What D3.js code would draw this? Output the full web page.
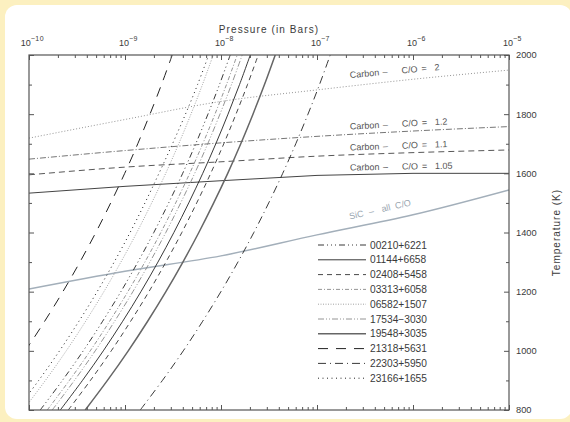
<!DOCTYPE html>
<html><head><meta charset="utf-8">
<script src="https://cdn.jsdelivr.net/npm/d3@7"></script>
<style>
body{margin:0;background:#fcf0c0;}
svg{display:block;font-family:"Liberation Sans",Arial,Helvetica,sans-serif;}
</style>
</head><body>
<svg id="c" width="570" height="422"></svg>
<script>
// ---- data ----
const temps = [800, 900, 1000, 1100, 1200, 1300, 1400, 1500, 1600, 1700, 1800, 1900, 2000];
const stars = ["00210+6221","01144+6658","02408+5458","03313+6058","06582+1507",
               "17534\u22123030","19548+3035","21318+5631","22303+5950","23166+1655"];
// log10(pressure / bar) of each star's T-P curve at the temperatures above
const logP_00210 = [-9.883,-9.652,-9.435,-9.233,-9.043,-8.866,-8.700,-8.545,-8.399,-8.263,-8.136,-8.016,-7.904];
const logP_01144 = [-9.674,-9.443,-9.226,-9.024,-8.834,-8.657,-8.491,-8.336,-8.190,-8.054,-7.927,-7.807,-7.695];
const logP_02408 = [-9.591,-9.360,-9.143,-8.941,-8.751,-8.574,-8.408,-8.253,-8.107,-7.971,-7.844,-7.724,-7.612];
const logP_03313 = [-9.810,-9.579,-9.362,-9.160,-8.970,-8.793,-8.627,-8.472,-8.326,-8.190,-8.063,-7.943,-7.831];
const logP_06582 = [-10.060,-9.829,-9.612,-9.410,-9.220,-9.043,-8.877,-8.722,-8.576,-8.440,-8.313,-8.193,-8.081];
const logP_17534 = [-9.758,-9.527,-9.310,-9.108,-8.918,-8.741,-8.575,-8.420,-8.274,-8.138,-8.011,-7.891,-7.779];
const logP_19548 = [-9.414,-9.183,-8.966,-8.764,-8.574,-8.397,-8.231,-8.076,-7.930,-7.794,-7.667,-7.547,-7.435];
const logP_21318 = [-10.487,-10.256,-10.039,-9.837,-9.647,-9.470,-9.304,-9.149,-9.003,-8.867,-8.740,-8.620,-8.508];
const logP_22303 = [-8.841,-8.610,-8.393,-8.191,-8.001,-7.824,-7.658,-7.503,-7.357,-7.221,-7.094,-6.974,-6.862];
const logP_23166 = [-10.130,-9.899,-9.682,-9.480,-9.290,-9.113,-8.947,-8.792,-8.646,-8.505,-8.370,-8.244,-8.128];

// condensation curves: log10(P) and temperature
const condLogP = [-10, -9, -8, -7, -6, -5];
const carbonCO2   = [1719, 1782, 1843, 1882, 1918, 1949];
const carbonCO12  = [1648, 1677, 1703, 1725, 1743, 1758];
const carbonCO11  = [1595, 1621, 1639, 1658, 1670, 1679];
const carbonCO105 = [1533, 1556, 1575, 1593, 1600, 1600];
const sicAll      = [1209, 1269, 1321, 1392, 1460, 1544];

const coValues = ["2", "1.2", "1.1", "1.05"];
const decadeExps = [-10, -9, -8, -7, -6, -5];
const tempTicks = [800, 1000, 1200, 1400, 1600, 1800, 2000];

// ---- styles ----
const starSeries = [logP_00210, logP_01144, logP_02408, logP_03313, logP_06582,
                    logP_17534, logP_19548, logP_21318, logP_22303, logP_23166];
const starStyle = [
  {c:"#222", w:0.9, d:"6,3,1,3,1,3,1,3"},
  {c:"#222", w:0.9, d:null},
  {c:"#333", w:0.9, d:"5,4"},
  {c:"#888", w:0.9, d:"4,2,1,2"},
  {c:"#999", w:0.9, d:"1,1.5"},
  {c:"#888", w:0.9, d:"6,2,1,2,1,2"},
  {c:"#666", w:1.5, d:null},
  {c:"#222", w:1.0, d:"10,8"},
  {c:"#222", w:0.9, d:"8,4,1,4"},
  {c:"#222", w:1.0, d:"1,3.5"}
];
const condSeries = [carbonCO2, carbonCO12, carbonCO11, carbonCO105, sicAll];
const condStyle = [
  {c:"#888", w:0.9, d:"1,2"},
  {c:"#666", w:0.9, d:"6,2,1,2"},
  {c:"#444", w:0.9, d:"6,4"},
  {c:"#444", w:1.0, d:null},
  {c:"#a3afba", w:1.4, d:null}
];

// ---- layout ----
const L = 29, R = 509, T = 55, B = 410;
const svg = d3.select("#c");
svg.append("rect").attr("x",5).attr("y",5).attr("width",567).attr("height",414)
   .attr("rx",12).attr("fill","#fff");

const x = d3.scaleLog().domain([1e-10, 1e-5]).range([L, R]);
const y = d3.scaleLinear().domain([800, 2000]).range([B, T]);

svg.append("clipPath").attr("id","clip").append("rect")
   .attr("x",L).attr("y",T).attr("width",R-L).attr("height",B-T);
const plot = svg.append("g").attr("clip-path","url(#clip)");

condSeries.forEach((s, i) => {
  const pts = condLogP.map((lp, j) => [Math.pow(10, lp), s[j]]);
  const line = d3.line().x(d => x(d[0])).y(d => y(d[1]))
    .curve(i === 3 ? d3.curveLinear : d3.curveMonotoneX);
  plot.append("path").attr("d", line(pts)).attr("fill","none")
    .attr("stroke", condStyle[i].c).attr("stroke-width", condStyle[i].w)
    .attr("stroke-dasharray", condStyle[i].d);
});

starSeries.forEach((s, i) => {
  const pts = temps.map((t, j) => [Math.pow(10, s[j]), t]);
  const line = d3.line().x(d => x(d[0])).y(d => y(d[1])).curve(d3.curveCatmullRom);
  plot.append("path").attr("d", line(pts)).attr("fill","none")
    .attr("stroke", starStyle[i].c).attr("stroke-width", starStyle[i].w)
    .attr("stroke-dasharray", starStyle[i].d);
});

// ---- axes ----
const minorP = [];
decadeExps.slice(0, -1).forEach(e => { for (let k = 2; k <= 9; k++) minorP.push(k * Math.pow(10, e)); });
const decades = decadeExps.map(e => Math.pow(10, e));
const minorT = d3.range(900, 2000, 200);
const axisColor = "#555";
const txtColor = "#3a3a3a";

function styleAxis(g) {
  g.select(".domain").remove();
  g.selectAll("line").attr("stroke", axisColor);
  g.selectAll("text").attr("fill",txtColor).attr("font-family","Liberation Sans, Arial, sans-serif");
}

const topAx = svg.append("g").attr("transform",`translate(0,${T})`)
  .call(d3.axisTop(x).tickValues(decades).tickSize(-5).tickPadding(9).tickFormat(() => ""));
topAx.selectAll(".tick text").each(function(d, i) {
  const t = d3.select(this);
  t.attr("font-size", 9).attr("dy", 0).attr("dx", 3);
  t.append("tspan").text("10");
  t.append("tspan").attr("dy", -5).attr("font-size", 7).attr("letter-spacing", 0.6)
    .text("\u2212" + Math.abs(decadeExps[i]));
});
styleAxis(topAx);
styleAxis(svg.append("g").attr("transform",`translate(0,${T})`)
  .call(d3.axisTop(x).tickValues(minorP).tickSize(-3).tickFormat(() => "")));
styleAxis(svg.append("g").attr("transform",`translate(0,${B})`)
  .call(d3.axisBottom(x).tickValues(decades).tickSize(-5).tickFormat(() => "")));
styleAxis(svg.append("g").attr("transform",`translate(0,${B})`)
  .call(d3.axisBottom(x).tickValues(minorP).tickSize(-3).tickFormat(() => "")));
styleAxis(svg.append("g").attr("transform",`translate(${L},0)`)
  .call(d3.axisLeft(y).tickValues(tempTicks).tickSize(-5).tickFormat(() => "")));
styleAxis(svg.append("g").attr("transform",`translate(${L},0)`)
  .call(d3.axisLeft(y).tickValues(minorT).tickSize(-3).tickFormat(() => "")));
const rightAx = svg.append("g").attr("transform",`translate(${R},0)`)
  .call(d3.axisRight(y).tickValues(tempTicks).tickSize(-5).tickPadding(7).tickFormat(d3.format("d")));
rightAx.selectAll("text").attr("font-size", 9.3);
styleAxis(rightAx);
styleAxis(svg.append("g").attr("transform",`translate(${R},0)`)
  .call(d3.axisRight(y).tickValues(minorT).tickSize(-3).tickFormat(() => "")));

svg.append("rect").attr("x",L).attr("y",T).attr("width",R-L).attr("height",B-T)
  .attr("fill","none").attr("stroke",axisColor).attr("stroke-width",1.2);

// titles
svg.append("text").attr("x",(L+R)/2).attr("y",33).attr("text-anchor","middle")
  .attr("font-size",10).attr("letter-spacing",1.1).attr("fill",txtColor).text("Pressure (in Bars)");
svg.append("text").attr("transform",`translate(560,${(T+B)/2}) rotate(-90)`)
  .attr("text-anchor","middle").attr("font-size",10).attr("letter-spacing",1)
  .attr("fill",txtColor).text("Temperature (K)");

// condensation labels (pieces spaced like the original)
const labelPos = [[350,78,-5],[350,129.5,-3],[350,150.5,-2],[350,170.5,-1]];
labelPos.forEach((p, i) => {
  const g = svg.append("g").attr("transform",`translate(${p[0]},${p[1]}) rotate(${p[2]})`)
    .attr("font-size",9).attr("fill","#555");
  [["Carbon",0],["\u2013",33],["C/O",52],["=",72],[coValues[i],85]].forEach(q =>
    g.append("text").attr("x", q[1]).text(q[0]));
});
const sicG = svg.append("g").attr("transform","translate(350,219.5) rotate(-13)")
  .attr("font-size",9).attr("fill","#9aa6b0");
[["SiC",0],["\u2013",20],["all",33],["C/O",47]].forEach(q =>
  sicG.append("text").attr("x", q[1]).text(q[0]));

// legend
const legY0 = 245, legDy = 14.8;
stars.forEach((s, i) => {
  const yy = legY0 + i * legDy;
  svg.append("line").attr("x1",318).attr("x2",366).attr("y1",yy).attr("y2",yy)
    .attr("stroke", starStyle[i].c).attr("stroke-width", starStyle[i].w)
    .attr("stroke-dasharray", starStyle[i].d);
  svg.append("text").attr("x",370).attr("y",yy+3.5).attr("font-size",10.2)
    .attr("fill",txtColor).text(s);
});
</script>
</body></html>
